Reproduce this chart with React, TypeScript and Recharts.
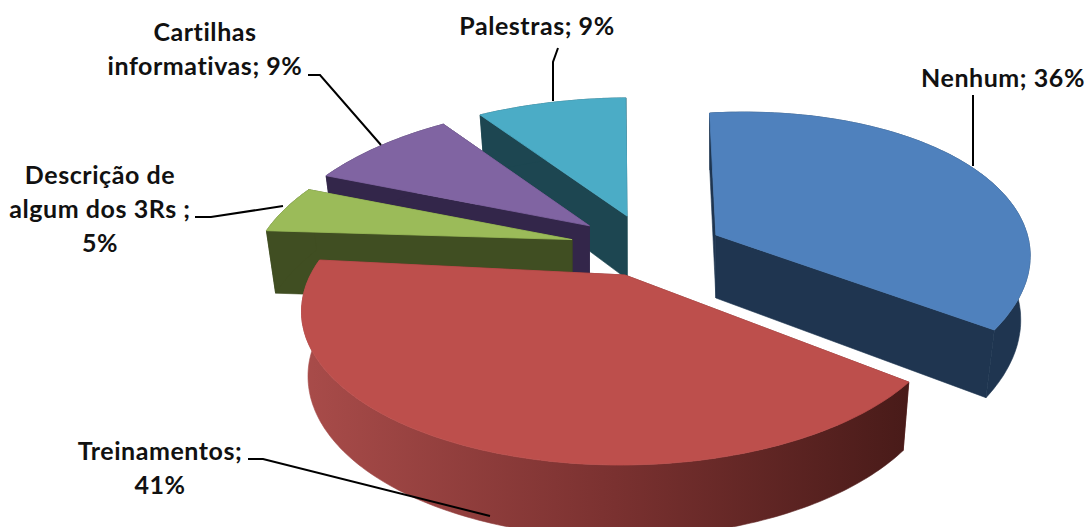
import { Pie, PieChart } from "recharts";

// slices run counter-clockwise from 12 o'clock, which also gives back-to-front paint order
const names = ["Palestras", "Cartilhas informativas", "Descrição de algum dos 3Rs", "Treinamentos", "Nenhum"];
const values = [9, 9, 5, 41, 36];

const labelLines = [
  ["Palestras; {v}"],
  ["Cartilhas", "informativas; {v}"],
  ["Descrição de", "algum dos 3Rs ;", "{v}"],
  ["Treinamentos;", "{v}"],
  ["Nenhum; {v}"],
];

const topColors = ["#4bacc6", "#8064a2", "#9bbb59", "#bd4f4c", "#4f81bd"];
const wallColors = ["#1d4651", "#33264a", "#404e22", "url(#redWall)", "#1f3550"];
const explosions = [75, 78, 79, 58, 75];

// off-centre slices lean a little under the camera perspective
const leans = [
  { shear: 0.01, xs: 1.02, ys: 0.97, foot: 0.97 },
  { shear: 0.03, xs: 1, ys: 1, foot: 0.97 },
  { shear: 0.03, xs: 1, ys: 1, foot: 0.97 },
  { shear: 0.01, xs: 1, ys: 1, foot: 0.98 },
  { shear: 0.053, xs: 0.965, ys: 1, foot: 0.97 },
];

const labelAnchors = [
  { x: 537, y: 35, leader: "M558 48 L553 62 L553 101" },
  { x: 205, y: 41, leader: "M308 75 L320 75 L381 145" },
  { x: 100, y: 184, leader: "M195 217 L211 217 L283 206" },
  { x: 160, y: 460, leader: "M248 459 L263 459 L490 516" },
  { x: 1003, y: 87, leader: "M973 95 L973 166" },
];

const chartData = names.map((name, i) => ({ name, value: values[i] }));

const RADIUS = 316;
const TILT = 0.47; // vertical squash of the disc
const PERSPECTIVE = 0.218; // near edge reads larger than far edge
const DEPTH = 63;
const LINE_HEIGHT = 34;

const rad = (deg: number) => (deg * Math.PI) / 180;

// Screen offset of a rim point from the slice's apex
function rimOffset(angle: number, index: number) {
  const { shear, xs, ys } = leans[index];
  const u = Math.cos(rad(angle));
  const v = -Math.sin(rad(angle));
  const s = 1 / (1 - PERSPECTIVE * v);
  const x = RADIUS * u * s;
  const y = RADIUS * TILT * v * s;
  return { x: (x + shear * y) * xs, y: y * ys - shear * x };
}

function toPath(points: { x: number; y: number }[]) {
  return points.map((p, i) => `${i ? "L" : "M"}${p.x.toFixed(1)} ${p.y.toFixed(1)}`).join(" ") + " Z";
}

function Slice3D(props: any) {
  const { cx, cy, startAngle, endAngle, index } = props;
  const mid = (startAngle + endAngle) / 2;
  const explode = explosions[index];
  const apex = {
    x: cx + explode * Math.cos(rad(mid)),
    y: cy - explode * TILT * Math.sin(rad(mid)),
  };
  const steps = Math.max(8, Math.ceil(Math.abs(endAngle - startAngle)));
  const top: { x: number; y: number }[] = [];
  const bottom: { x: number; y: number }[] = [];
  for (let i = 0; i <= steps; i++) {
    const a = startAngle + ((endAngle - startAngle) * i) / steps;
    const o = rimOffset(a, index);
    top.push({ x: apex.x + o.x, y: apex.y + o.y });
    bottom.push({ x: apex.x + o.x * leans[index].foot, y: apex.y + DEPTH + o.y * 1.05 });
  }
  const apexLow = { x: apex.x, y: apex.y + DEPTH };
  const wall = index === 3 ? "#6f2c2a" : wallColors[index];
  const rimWall = wallColors[index];
  return (
    <g>
      <path d={toPath([apex, top[0], bottom[0], apexLow])} fill={wall} stroke={wall} strokeWidth={0.6} />
      <path d={toPath([apex, top[steps], bottom[steps], apexLow])} fill={wall} stroke={wall} strokeWidth={0.6} />
      <path d={toPath([...top, ...bottom.slice().reverse()])} fill={rimWall} stroke={rimWall} strokeWidth={0.6} />
      <path d={toPath([apex, ...top])} fill={topColors[index]} stroke={topColors[index]} strokeWidth={0.8} />
    </g>
  );
}

function SliceLabel(props: any) {
  const { index } = props;
  const anchor = labelAnchors[index];
  return (
    <g>
      <path d={anchor.leader} fill="none" stroke="#000" strokeWidth={2} />
      <text
        textAnchor="middle"
        fontFamily="Lato"
        fontWeight={700}
        fontSize={25}
        letterSpacing={0.55}
        fill="#111"
      >
        {labelLines[index].map((line, i) => (
          <tspan key={line} x={anchor.x} y={anchor.y + i * LINE_HEIGHT}>
            {line.replace("{v}", `${values[index]}%`)}
          </tspan>
        ))}
      </text>
    </g>
  );
}

export default function App() {
  return (
    <div style={{ position: "absolute", left: 0, top: 0, width: 1087, height: 527, background: "#fff" }}>
      <PieChart width={1087} height={527} margin={{ top: 0, right: 0, bottom: 0, left: 0 }}>
        <defs>
          <linearGradient id="redWall" gradientUnits="userSpaceOnUse" x1={300} y1={0} x2={905} y2={0}>
            <stop offset="0%" stopColor="#a94c4a" />
            <stop offset="50%" stopColor="#7c3231" />
            <stop offset="100%" stopColor="#491b19" />
          </linearGradient>
        </defs>
        <Pie
          data={chartData}
          dataKey="value"
          nameKey="name"
          cx={648}
          cy={250}
          outerRadius={RADIUS}
          startAngle={90}
          endAngle={450}
          stroke="none"
          shape={Slice3D}
          label={SliceLabel}
          labelLine={false}
          isAnimationActive={false}
        />
      </PieChart>
    </div>
  );
}
